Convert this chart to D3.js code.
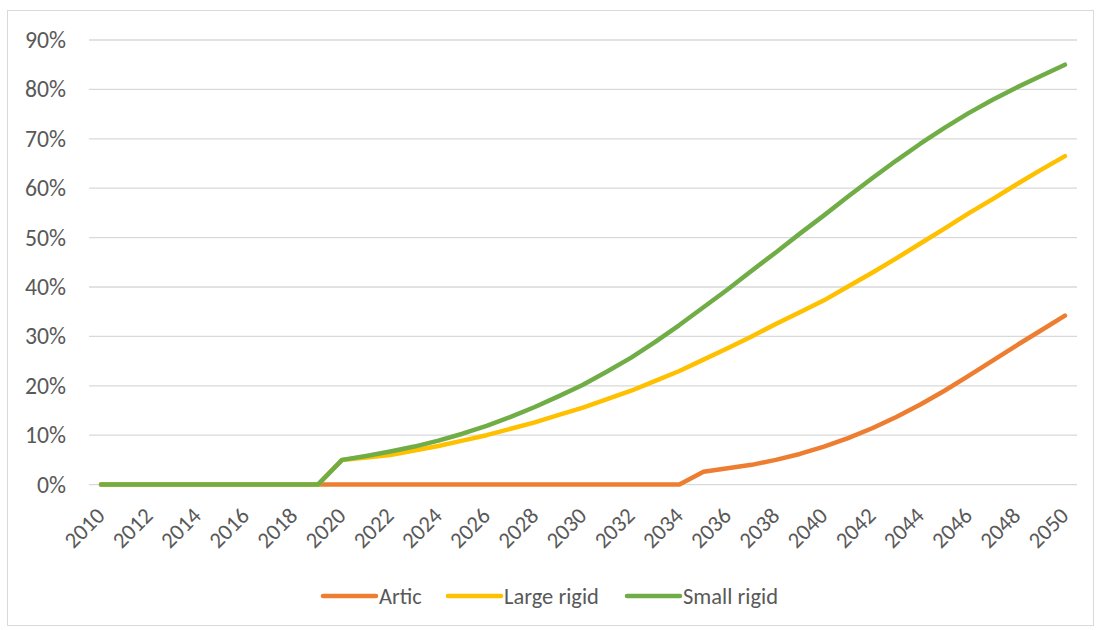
<!DOCTYPE html>
<html><head><meta charset="utf-8">
<script src="https://cdn.jsdelivr.net/npm/d3@7"></script>
<style>body{margin:0;background:#fff}svg{display:block}</style>
</head><body>
<script>
const years = d3.range(2010, 2051);
const tickYears = d3.range(2010, 2051, 2);
const yTicks = [0, 0.1, 0.2, 0.3, 0.4, 0.5, 0.6, 0.7, 0.8, 0.9];
const seriesNames = ["Artic", "Large rigid", "Small rigid"];
const seriesColors = ["#ED7D31", "#FFC000", "#70AD47"];
const zeros10 = [0,0,0,0,0,0,0,0,0,0];
const artic = zeros10.concat([0,0,0,0,0,0,0,0,0,0,0,0,0,0,0,
  2.6,3.3,4.0,5.0,6.2,7.7,9.4,11.4,13.7,16.2,19.0,22.0,25.1,28.2,31.2,34.2]);
const largeRigid = zeros10.concat([5.0,5.5,6.0,6.9,7.8,8.9,10.0,11.3,12.6,14.1,15.6,17.3,19.0,21.0,23.0,
  25.3,27.6,30.0,32.5,34.9,37.3,40.1,42.9,45.8,48.8,51.8,54.9,57.8,60.8,63.7,66.5]);
const smallRigid = zeros10.concat([5.0,5.8,6.7,7.7,8.9,10.3,11.9,13.7,15.7,17.9,20.2,22.9,25.7,28.9,32.3,
  35.9,39.5,43.3,47.0,50.8,54.5,58.3,62.0,65.6,69.0,72.2,75.2,77.9,80.4,82.7,85.0]);
const seriesValues = [artic, largeRigid, smallRigid];

const W = 1102, H = 630;
const svg = d3.select("body").append("svg").attr("width", W).attr("height", H);
const font = "Calibri, Carlito, Lato, 'Open Sans', sans-serif";
const txtColor = "#595959";

// fit a font size so a sample string reaches a target width
function fitSize(sample, target) {
  const t = svg.append("text").attr("font-family", font).attr("font-size", 20).text(sample);
  const w = t.node().getComputedTextLength();
  t.remove();
  return 20 * target / w;
}
const ySize = fitSize("90%", 41);
const xSize = fitSize("2010", 46);
const legSize = fitSize("Large rigid", 95);

svg.append("rect").attr("x", 7.5).attr("y", 10.5).attr("width", 1086).attr("height", 615)
  .attr("fill", "#fff").attr("stroke", "#d9d9d9").attr("stroke-width", 1);

const x = d3.scalePoint().domain(years).range([89, 1077]).padding(0.5);
const y = d3.scaleLinear().domain([0, 0.9]).range([484.6, 40]);

// gridlines
svg.append("g").selectAll("line").data(yTicks).join("line")
  .attr("x1", 89).attr("x2", 1077).attr("y1", d => y(d)).attr("y2", d => y(d))
  .attr("stroke", "#d9d9d9").attr("stroke-width", 1.3);

// y axis labels
const yAxis = d3.axisLeft(y).tickValues(yTicks).tickFormat(d3.format(".0%")).tickSize(0).tickPadding(23);
const ya = svg.append("g").attr("transform", "translate(89,0)").call(yAxis);
ya.select(".domain").remove();
ya.selectAll("text").attr("font-family", font).attr("font-size", ySize).attr("fill", txtColor);

// x axis labels
const xAxis = d3.axisBottom(x).tickValues(tickYears).tickSize(0).tickPadding(0);
const xa = svg.append("g").call(xAxis);
xa.select(".domain").remove();
xa.selectAll(".tick").attr("transform", d => `translate(${x(d) + 5},517)`);
xa.selectAll("text").attr("font-family", font).attr("font-size", xSize).attr("fill", txtColor)
  .attr("text-anchor", "end").attr("y", 0).attr("dy", 0)
  .attr("transform", "rotate(-45)");

// lines
const line = d3.line().x((d, i) => x(years[i])).y(d => y(d / 100));
seriesValues.forEach((vals, k) => {
  svg.append("path").datum(vals).attr("d", line).attr("fill", "none")
    .attr("stroke", seriesColors[k]).attr("stroke-width", 4.5)
    .attr("stroke-linecap", "round").attr("stroke-linejoin", "round");
});

// legend
const legX = [323, 448, 627];
const lg = svg.append("g");
seriesNames.forEach((n, k) => {
  lg.append("line").attr("x1", legX[k]).attr("x2", legX[k] + 53).attr("y1", 596).attr("y2", 596)
    .attr("stroke", seriesColors[k]).attr("stroke-width", 4.5).attr("stroke-linecap", "round");
  lg.append("text").attr("x", legX[k] + 56).attr("y", 596).attr("dy", "0.35em")
    .attr("font-family", font).attr("font-size", legSize).attr("fill", txtColor).text(n);
});
</script>
</body></html>
